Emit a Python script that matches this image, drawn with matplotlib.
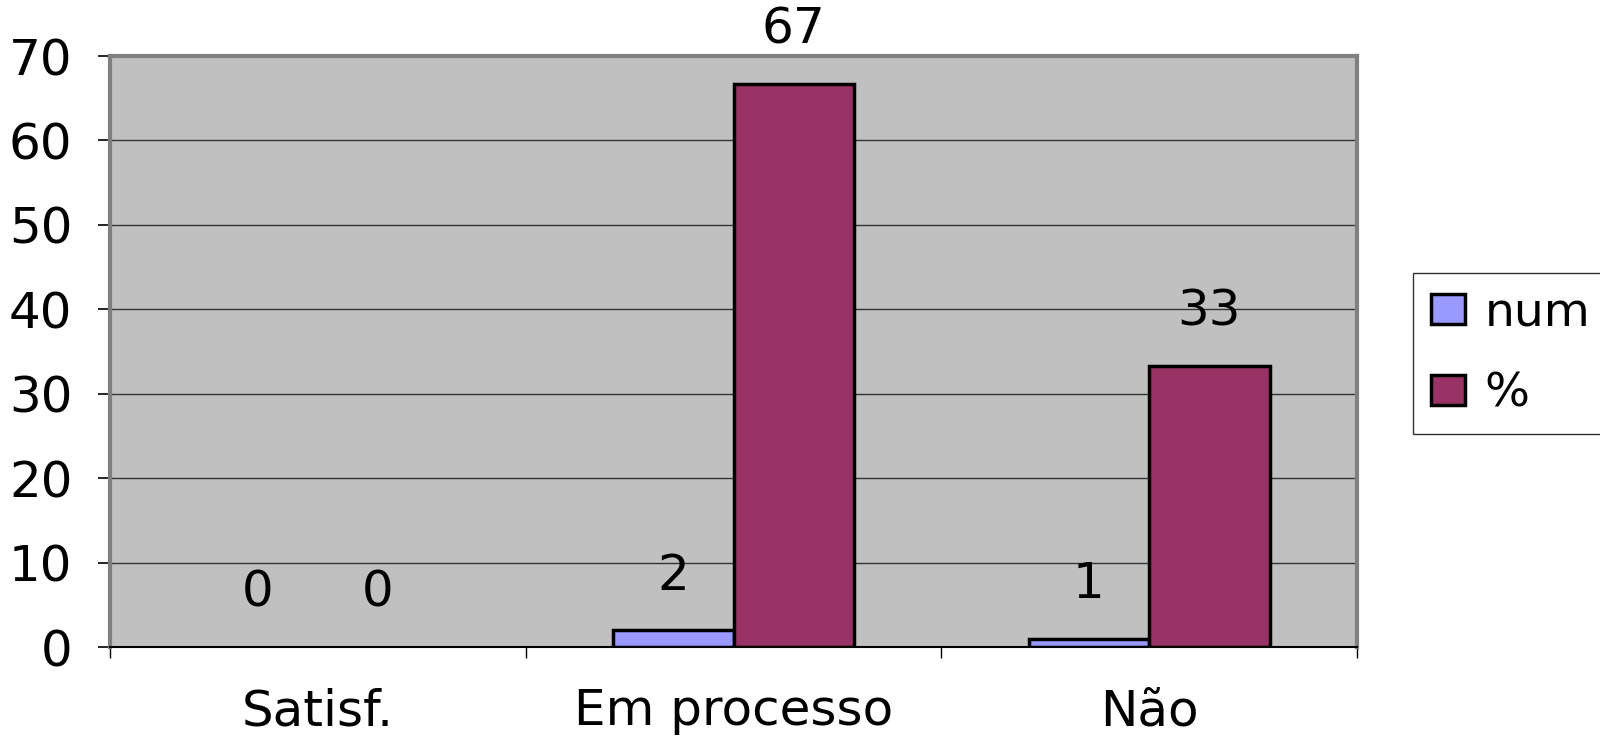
import matplotlib.pyplot as plt
import numpy as np

plt.rcParams["font.family"] = ["DejaVu Sans"]

categories = ["Satisf.", "Em processo", "Não"]
num_values = [0, 2, 1]
pct_values = [0, 66.7, 33.3]
series_names = ["num", "%"]
y_ticks = [0, 10, 20, 30, 40, 50, 60, 70]

COLORS = {
    "num": "#9999FF",
    "pct": "#993366",
    "panel": "#C0C0C0",
    "border": "#808080",
    "ink": "#000000",
}

FONT = 36

fig = plt.figure(figsize=(16, 7.37), dpi=100)
ax = fig.add_axes([0.06875, 0.122, 0.7794, 0.802])
ax.set_facecolor(COLORS["panel"])

x = np.arange(len(categories))
width = 0.29
bars_num = ax.bar(x - width / 2, num_values, width, color=COLORS["num"],
                  edgecolor=COLORS["ink"], linewidth=2.5, label=series_names[0], zorder=3)
bars_pct = ax.bar(x + width / 2, pct_values, width, color=COLORS["pct"],
                  edgecolor=COLORS["ink"], linewidth=2.5, label=series_names[1], zorder=3)

for bars in (bars_num, bars_pct):
    for bar in bars:
        h = bar.get_height()
        if h == 0:
            bar.set_linewidth(0)
        ax.annotate(f"{h:.0f}", (bar.get_x() + bar.get_width() / 2, h),
                    xytext=(0, 39), textcoords="offset points",
                    ha="center", va="center", fontsize=FONT, color=COLORS["ink"],
                    annotation_clip=False)

ax.set_xlim(-0.5, len(categories) - 0.5)
ax.set_ylim(0, 70)
ax.set_yticks(y_ticks)
ax.yaxis.grid(True, color="#333333", linewidth=1.0, zorder=1)
ax.set_axisbelow(True)
ax.tick_params(axis="y", labelsize=FONT, length=9, width=1.2, pad=18, colors=COLORS["ink"])

ax.set_xticks(np.arange(len(categories) + 1) - 0.5)
ax.set_xticklabels([])
ax.set_xticks(x, minor=True)
ax.set_xticklabels(categories, minor=True)
ax.tick_params(axis="x", which="major", length=8, width=1.0, colors=COLORS["ink"])
ax.tick_params(axis="x", which="minor", length=0, labelsize=FONT, pad=29)

for side in ("top", "right", "left"):
    ax.spines[side].set_color(COLORS["border"])
    ax.spines[side].set_linewidth(3)
ax.spines["bottom"].set_color(COLORS["ink"])
ax.spines["bottom"].set_linewidth(1.5)
ax.spines["bottom"].set_zorder(4)

leg = fig.legend(handles=[bars_num, bars_pct], labels=series_names,
                 loc="upper left", bbox_to_anchor=(0.8831, 0.6296),
                 fontsize=34, frameon=True, fancybox=False, edgecolor=COLORS["ink"],
                 handlelength=0.72, handleheight=0.6, handletextpad=0.42,
                 labelspacing=0.75, borderpad=0.38, borderaxespad=0)
leg.get_frame().set_linewidth(1.0)
for patch in leg.get_patches():
    patch.set_linewidth(2.5)

fig.savefig("out.png", dpi=100, facecolor="white")
